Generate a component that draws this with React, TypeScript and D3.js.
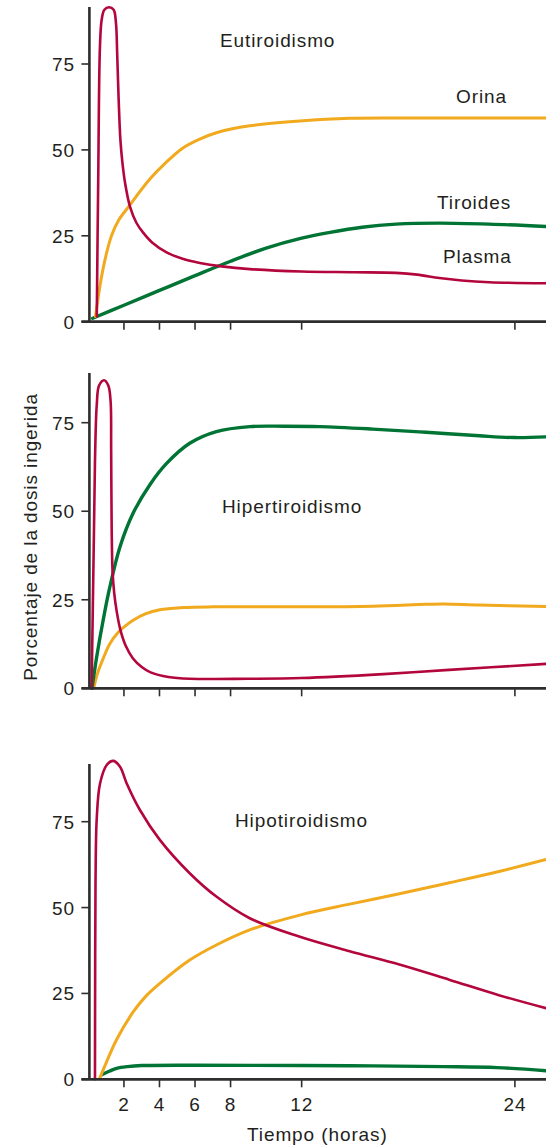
import React from "react";
import * as d3 from "d3";

// ---------- data ----------
const xTicks = [2, 4, 6, 8, 12, 24];
const yTicks = [0, 25, 50, 75];

// Eutiroidismo
const euPlasma: [number, number][] = [
  [0.47, 1.5], [0.55, 40], [0.65, 80], [0.75, 88], [0.9, 90.8], [1.16, 91.5], [1.42, 90.8],
  [1.55, 87], [1.62, 78], [1.7, 65], [1.8, 53], [1.92, 46], [2.06, 40.5], [2.34, 33.5],
  [2.7, 28.8], [3.07, 26], [3.6, 23], [4.4, 20.2], [5.3, 18.3], [6.27, 17.1], [7.5, 16.1],
  [9.08, 15.3], [12, 14.6], [15, 14.4], [17.3, 14.2], [18.5, 13.7], [19.75, 12.7], [21, 12],
  [22.55, 11.5], [25.75, 11.2],
];
const euOrina: [number, number][] = [
  [0.4, 1.5], [0.7, 12], [1.0, 19.5], [1.3, 25], [1.7, 29.5], [2.34, 34], [3.46, 41.5],
  [4.4, 46.5], [5.3, 50.5], [6.2, 53], [7.2, 55], [9.08, 57], [11.9, 58.4], [14.7, 59.2],
  [18, 59.3], [25.75, 59.3],
];
const euTiroides: [number, number][] = [
  [0.24, 1], [2, 4.8], [4, 9.1], [6, 13.4], [8, 17.6], [10, 21.4], [12, 24.3], [13.6, 26],
  [15.4, 27.5], [17.3, 28.4], [19.75, 28.7], [22.55, 28.4], [25.75, 27.7],
];

// Hipertiroidismo
const hiperPlasma: [number, number][] = [
  [0.18, 0], [0.3, 40], [0.37, 64], [0.47, 80], [0.6, 85.5], [0.88, 87], [1.12, 85.5],
  [1.25, 81], [1.28, 68], [1.31, 45], [1.36, 33], [1.45, 27], [1.59, 21.8], [1.8, 16.5],
  [2.1, 12], [2.5, 8.5], [3, 6], [3.5, 4.5], [4.5, 3.2], [5.7, 2.7], [9, 2.7], [12, 2.9],
  [16.6, 4], [20.3, 5.2], [25.75, 6.9],
];
const hiperOrina: [number, number][] = [
  [0.3, 0], [0.5, 4], [0.84, 8.5], [1.2, 12.5], [1.68, 15.8], [2.1, 17.7], [2.52, 19.2],
  [3.2, 21], [4.02, 22.2], [5.33, 22.8], [7, 23], [12, 23], [16, 23.2], [19, 23.7], [20, 23.8],
  [22, 23.5], [25.75, 23.1],
];
const hiperTiroides: [number, number][] = [
  [0.2, 0], [0.47, 9], [0.84, 19.5], [1.18, 28], [1.78, 40], [2.52, 49.5], [3.46, 57.5],
  [4.4, 63.5], [5.7, 69.2], [7.2, 72.5], [9.08, 73.9], [11, 74], [13, 73.9], [16, 73.2],
  [19, 72.3], [22, 71.3], [24, 70.8], [25.75, 71],
];

// Hipotiroidismo
const hipoPlasma: [number, number][] = [
  [0.37, 0], [0.38, 30], [0.4, 57], [0.47, 76], [0.65, 86], [1.03, 91.5], [1.4, 92.7],
  [1.78, 91], [2.15, 86.2], [2.9, 78.4], [4.02, 69.7], [5.7, 60], [7.2, 53.2], [9.08, 46.9],
  [11.9, 41.5], [14.7, 37.3], [17.5, 33.4], [20.3, 29], [23.1, 24.5], [25.75, 20.7],
];
const hipoOrina: [number, number][] = [
  [0.65, 0.5], [1.0, 4.8], [1.59, 11.6], [2.52, 19.6], [3.2, 24], [4.02, 27.9], [5.7, 34.7],
  [7.2, 39.1], [9.08, 43.5], [11.9, 47.8], [14.7, 51], [17.5, 54], [20.3, 57.2], [23.1, 60.5],
  [25.75, 64],
];
const hipoTiroides: [number, number][] = [
  [0.75, 1.3], [1.2, 2.4], [1.59, 3.2], [2.2, 3.7], [3, 4], [6, 4.1], [12, 4], [16, 3.9],
  [20, 3.7], [23, 3.4], [25.75, 2.5],
];

const panelTitles = ["Eutiroidismo", "Hipertiroidismo", "Hipotiroidismo"];
const seriesLabels = ["Orina", "Tiroides", "Plasma"];

// ---------- styles ----------
const RED = "#b3063d";
const ORANGE = "#f1a91d";
const GREEN = "#007434";
const AXIS = "#2e2e2e";
const TEXT = "#231f20";
const FONT = "'Liberation Sans', Arial, Helvetica, sans-serif";

const x = d3.scaleLinear().domain([0, 25.75]).range([88.4, 546]);

const panels = [
  { title: panelTitles[0], y0: 321.7, y75: 64, top: 7, titlePos: [220, 47],
    series: [
      { data: euTiroides, color: GREEN, w: 3.4 },
      { data: euOrina, color: ORANGE, w: 3 },
      { data: euPlasma, color: RED, w: 2.6 },
    ] },
  { title: panelTitles[1], y0: 688.3, y75: 422.7, top: 373, titlePos: [222, 513],
    series: [
      { data: hiperOrina, color: ORANGE, w: 3 },
      { data: hiperTiroides, color: GREEN, w: 3.4 },
      { data: hiperPlasma, color: RED, w: 2.6 },
    ] },
  { title: panelTitles[2], y0: 1079.3, y75: 821.7, top: 764, titlePos: [235, 827],
    series: [
      { data: hipoTiroides, color: GREEN, w: 3.4 },
      { data: hipoOrina, color: ORANGE, w: 3 },
      { data: hipoPlasma, color: RED, w: 2.6 },
    ] },
];

const textStyle: React.CSSProperties = { fontFamily: FONT, fontSize: 19, letterSpacing: 0.9 };

export default function App() {
  return (
    <svg width={546} height={1147} style={{ position: "absolute", left: 0, top: 0, background: "#fff" }}>
      {panels.map((p, i) => {
        const y = d3.scaleLinear().domain([0, 75]).range([p.y0, p.y75]);
        const line = d3
          .line<[number, number]>()
          .x((d) => x(d[0]))
          .y((d) => y(d[1]))
          .curve(d3.curveCatmullRom.alpha(0.5));
        const ax = x(0) + 1;
        return (
          <g key={i}>
            {p.series.map((s, j) => (
              <path key={j} d={line(s.data) || ""} fill="none" stroke={s.color} strokeWidth={s.w}
                strokeLinejoin="round" strokeLinecap="round" />
            ))}
            {/* y axis */}
            <line x1={ax} x2={ax} y1={p.top} y2={p.y0} stroke={AXIS} strokeWidth={2.6} />
            {yTicks.map((t) => (
              <g key={t}>
                <line x1={ax - 8} x2={ax} y1={y(t)} y2={y(t)} stroke={AXIS} strokeWidth={1.6} />
                <text x={75} y={y(t) + 7} textAnchor="end" fill={TEXT} style={textStyle}>{t}</text>
              </g>
            ))}
            {/* x axis */}
            <line x1={ax - 8} x2={546} y1={p.y0} y2={p.y0} stroke={AXIS} strokeWidth={2.8} />
            {xTicks.map((t) => (
              <line key={t} x1={x(t)} x2={x(t)} y1={p.y0} y2={p.y0 + 8} stroke={AXIS} strokeWidth={1.6} />
            ))}
            <text x={p.titlePos[0]} y={p.titlePos[1]} fill={TEXT} style={textStyle}>{p.title}</text>
          </g>
        );
      })}
      {/* series labels in the first panel */}
      <text x={456} y={103} fill={TEXT} style={textStyle}>{seriesLabels[0]}</text>
      <text x={437} y={209} fill={TEXT} style={textStyle}>{seriesLabels[1]}</text>
      <text x={443} y={263} fill={TEXT} style={textStyle}>{seriesLabels[2]}</text>
      {/* x tick labels on bottom panel */}
      {xTicks.map((t) => (
        <text key={t} x={x(t)} y={1111} textAnchor="middle" fill={TEXT} style={textStyle}>{t}</text>
      ))}
      <text x={247} y={1141} fill={TEXT} style={textStyle}>Tiempo (horas)</text>
      <text transform="translate(37,537) rotate(-90)" textAnchor="middle" fill={TEXT} style={textStyle}>
        Porcentaje de la dosis ingerida
      </text>
    </svg>
  );
}
